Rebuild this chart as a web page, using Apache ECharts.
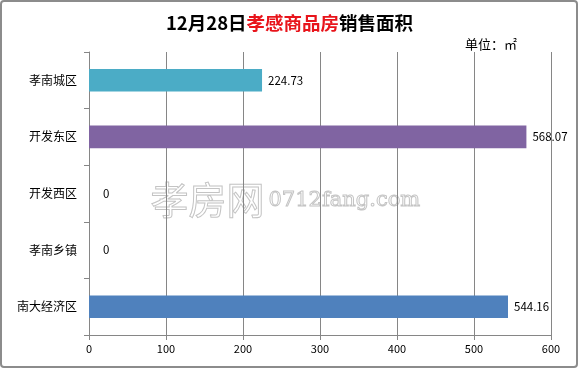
<!DOCTYPE html>
<html><head><meta charset="utf-8">
<script src="https://cdn.jsdelivr.net/npm/echarts@6/dist/echarts.min.js"></script>
<style>html,body{margin:0;padding:0;background:#fff}#c{width:579px;height:369px}</style>
</head><body><div id="c"></div>
<script>
const categories = ['孝南城区','开发东区','开发西区','孝南乡镇','南大经济区'];
const values = [224.73, 568.07, 0, 0, 544.16];
const barColors = ['#4BACC6','#8064A2','#8064A2','#4F81BD','#4F81BD'];
const xTicks = [0,100,200,300,400,500,600];

const chart = echarts.init(document.getElementById('c'));
const font = '"Noto Sans CJK SC", "Noto Sans", sans-serif';
chart.setOption({
  animation:false,
  backgroundColor:'#fff',
  title:{
    text:'{a|12月28日}{b|孝感商品房}{a|销售面积}',
    left:'center', top:9,
    textStyle:{rich:{
      a:{fontSize:18.5,fontWeight:'bold',color:'#000',fontFamily:font},
      b:{fontSize:18.5,fontWeight:'bold',color:'#e8141b',fontFamily:font}
    }}
  },
  graphic:[
    {type:'rect',shape:{x:1,y:1,width:576,height:366,r:3},style:{fill:'none',stroke:'#8c8c8c',lineWidth:2},z:100},
    {type:'text',left:465,top:38,style:{text:'单位：㎡',fontSize:13,fill:'#000',fontFamily:font}},
    {type:'text',left:150,top:180,z:-1,style:{text:'孝房网',fontSize:38,fill:'rgba(255,255,255,0)',stroke:'#c4c4c4',lineWidth:1,fontFamily:font}},
    {type:'text',left:268,top:190,z:-1,style:{text:'0712fang.com',fontSize:21,fill:'rgba(255,255,255,0)',stroke:'#c4c4c4',lineWidth:1,fontFamily:'"DejaVu Serif", serif'}}
  ],
  grid:{left:89,right:28,top:52,bottom:34,containLabel:false},
  xAxis:{
    type:'value',min:0,max:600,interval:100,
    axisLine:{show:true,lineStyle:{color:'#868686'}},
    axisTick:{show:true,length:5,lineStyle:{color:'#868686'}},
    splitLine:{show:true,lineStyle:{color:'#868686',width:1}},
    axisLabel:{color:'#000',fontSize:11,margin:8,fontFamily:font,
      formatter:v=>xTicks.includes(v)?String(v):''}
  },
  yAxis:{
    type:'category',data:categories,inverse:true,
    axisLine:{show:true,lineStyle:{color:'#868686'}},
    axisTick:{show:true,length:5,lineStyle:{color:'#868686'}},
    axisLabel:{color:'#000',fontSize:12,margin:12,fontFamily:font},
    splitLine:{show:false}
  },
  series:[{
    type:'bar',
    barCategoryGap:'60%',
    data:values.map((v,i)=>({value:v,itemStyle:{color:barColors[i]},
      label:{distance:v===0?14:6}})),
    label:{show:true,position:'right',color:'#000',fontSize:11.5,fontFamily:font,
      formatter:p=>String(p.value)}
  }]
});
</script></body></html>
